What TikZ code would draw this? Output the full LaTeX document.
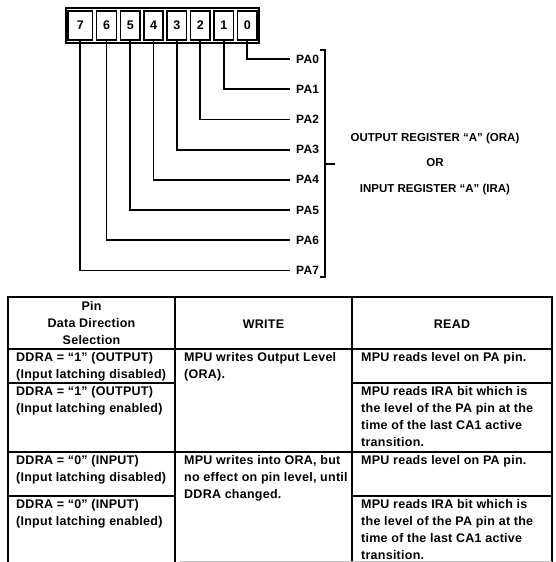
\documentclass[tikz,border=0pt]{standalone}
\usepackage{fontspec}
\setmainfont{Liberation Sans}
\begin{document}
\begin{tikzpicture}[x=1pt,y=-1pt,
  tbl/.style={line width=1.7pt},
  body/.style={font=\bfseries\fontsize{12.5}{16.8}\selectfont\addfontfeature{LetterSpace=2}, inner sep=0pt, anchor=north west, align=left},
  hdr/.style={font=\bfseries\fontsize{12.5}{16.8}\selectfont\addfontfeature{LetterSpace=2}, inner sep=0pt, align=center},
  pal/.style={font=\bfseries\fontsize{12}{14}\selectfont\addfontfeature{LetterSpace=2}, anchor=west, inner sep=0pt},
  wire/.style={line width=1.8pt},
  cellbox/.style={draw, line width=1.6pt, font=\bfseries\fontsize{12.5}{14}\selectfont, minimum height=29pt, inner sep=0pt},
  regtext/.style={font=\bfseries\fontsize{11.5}{25.5}\selectfont, align=center, inner sep=0pt}
]
\useasboundingbox (0,0) rectangle (555,562);

% register
\draw[line width=2.5pt] (66,8) rectangle (259,43);
\foreach \xa/\xb/\dg in {66/94.5/7, 94.5/118.5/6, 118.5/142/5, 142/165/4, 165/188.5/3, 188.5/212/2, 212/235.5/1, 235.5/259/0}
  \node[cellbox, minimum width={\xb-\xa-4}] (c\dg) at ({(\xa+\xb)/2},25.5) {\dg};

% PA labels and wires
\foreach \i in {0,...,7}
  \node[pal] (pa\i) at (296, {59+30.2*\i}) {PA\i};
\foreach \i in {0,...,7}
  \draw[wire] (c\i.south) |- ([xshift=-6pt]pa\i.west);

% bracket
\draw[line width=1.8pt] (320,50) -- (325,50) -- (325,277) -- (320,277);
\coordinate (brk) at (325,164);
\draw[line width=1.8pt] (brk) -- ++(10,0);

\node[regtext] (reg) at (435,164) {OUTPUT REGISTER “A” (ORA)\\OR\\INPUT REGISTER “A” (IRA)};

% table
\draw[tbl] (8,562) -- (8,297) -- (552,297) -- (552,562);
\draw[tbl] (175,297) -- (175,562);
\draw[tbl] (352,297) -- (352,562);
\draw[tbl] (8,349) -- (552,349);
\draw[tbl] (8,383) -- (175,383);
\draw[tbl] (352,383) -- (552,383);
\draw[tbl] (8,452) -- (552,452);
\draw[tbl] (8,496) -- (175,496);
\draw[tbl] (352,496) -- (552,496);
\draw[line width=0.6pt, black!25] (180,561.5) -- (552,561.5);

\node[hdr] (h1) at (91.5,323) {Pin\\Data Direction\\Selection};
\node[hdr] (h2) at (263.5,324) {WRITE};
\node[hdr] (h3) at (452,324) {READ};

\node[body] (r1a) at (16,352.5) {DDRA = “1” (OUTPUT)\\(Input latching disabled)};
\node[body] (r2a) at (16,386.5) {DDRA = “1” (OUTPUT)\\(Input latching enabled)};
\node[body] (r3a) at (16,455.5) {DDRA = “0” (INPUT)\\(Input latching disabled)};
\node[body] (r4a) at (16,499.5) {DDRA = “0” (INPUT)\\(Input latching enabled)};

\node[body] (w1) at (184,352.5) {MPU writes Output Level\\(ORA).};
\node[body] (w3) at (184,455.5) {MPU writes into ORA, but\\no effect on pin level, until\\DDRA changed.};

\node[body] (d1) at (361,352.5) {MPU reads level on PA pin.};
\node[body] (d2) at (361,386.5) {MPU reads IRA bit which is\\the level of the PA pin at the\\time of the last CA1 active\\transition.};
\node[body] (d3) at (361,455.5) {MPU reads level on PA pin.};
\node[body] (d4) at (361,499.5) {MPU reads IRA bit which is\\the level of the PA pin at the\\time of the last CA1 active\\transition.};
\end{tikzpicture}
\end{document}
